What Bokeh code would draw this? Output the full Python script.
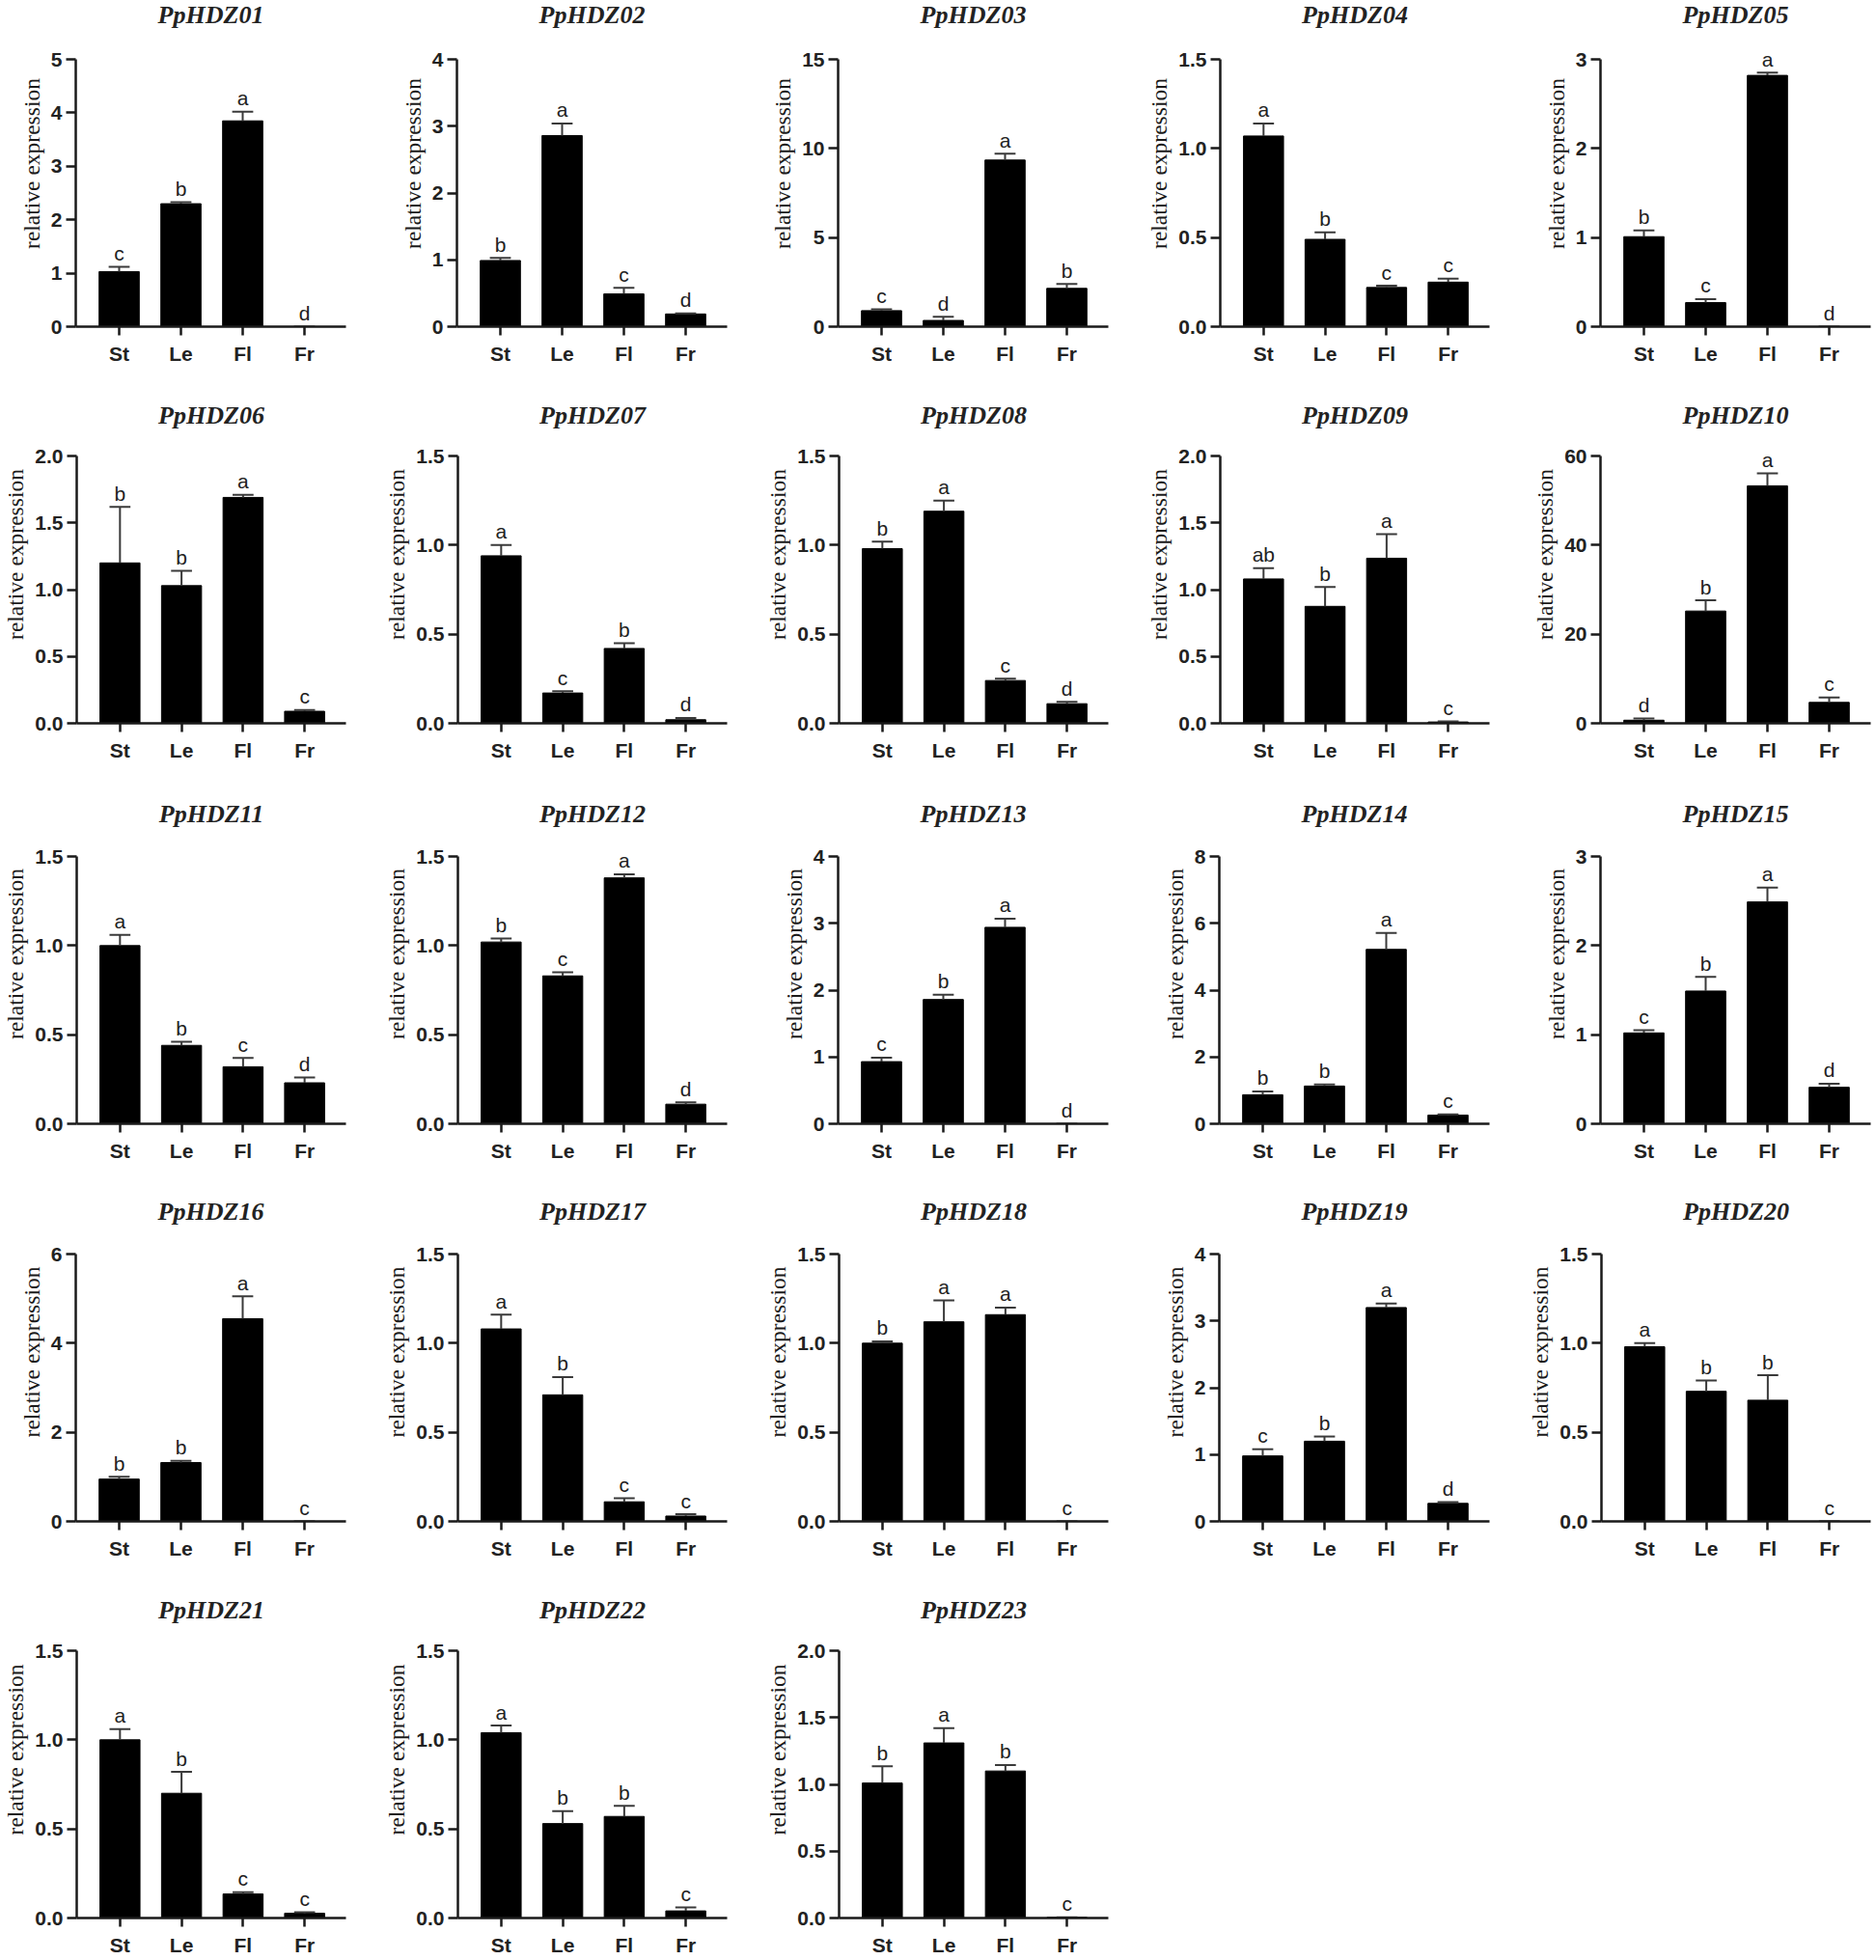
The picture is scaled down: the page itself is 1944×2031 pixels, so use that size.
from bokeh.plotting import figure
from bokeh.layouts import column, row
from bokeh.models import FixedTicker, PrintfTickFormatter
from bokeh.core.properties import value
from bokeh.embed import file_html
from bokeh.resources import INLINE

genes = ["PpHDZ01", "PpHDZ02", "PpHDZ03", "PpHDZ04", "PpHDZ05",
         "PpHDZ06", "PpHDZ07", "PpHDZ08", "PpHDZ09", "PpHDZ10",
         "PpHDZ11", "PpHDZ12", "PpHDZ13", "PpHDZ14", "PpHDZ15",
         "PpHDZ16", "PpHDZ17", "PpHDZ18", "PpHDZ19", "PpHDZ20",
         "PpHDZ21", "PpHDZ22", "PpHDZ23"]
tissues = ["St", "Le", "Fl", "Fr"]

# mean relative expression per tissue (one entry per gene)
mean_st = [1.03, 0.99, 0.90, 1.07, 1.01, 1.20, 0.94, 0.98, 1.08, 0.7,
           1.00, 1.02, 0.93, 0.87, 1.02, 0.95, 1.08, 1.00, 0.98, 0.98,
           1.00, 1.04, 1.01]
mean_le = [2.30, 2.86, 0.35, 0.49, 0.27, 1.03, 0.17, 1.19, 0.875, 25.2,
           0.44, 0.83, 1.86, 1.13, 1.49, 1.32, 0.71, 1.12, 1.20, 0.73,
           0.70, 0.53, 1.31]
mean_fl = [3.85, 0.49, 9.35, 0.22, 2.82, 1.69, 0.42, 0.24, 1.235, 53.3,
           0.32, 1.38, 2.94, 5.22, 2.49, 4.55, 0.11, 1.16, 3.20, 0.68,
           0.135, 0.57, 1.10]
mean_fr = [0.0, 0.19, 2.15, 0.25, 0.0, 0.09, 0.02, 0.11, 0.01, 4.7,
           0.23, 0.11, 0.0, 0.26, 0.41, 0.0, 0.03, 0.0, 0.27, 0.0,
           0.027, 0.04, 0.005]

# upper error (SD) per tissue
err_st = [0.09, 0.04, 0.07, 0.07, 0.07, 0.42, 0.06, 0.04, 0.08, 0.4,
          0.06, 0.02, 0.06, 0.10, 0.03, 0.05, 0.08, 0.01, 0.10, 0.02,
          0.06, 0.04, 0.125]
err_le = [0.03, 0.18, 0.20, 0.04, 0.04, 0.11, 0.01, 0.06, 0.145, 2.4,
          0.02, 0.02, 0.07, 0.05, 0.16, 0.04, 0.10, 0.12, 0.07, 0.06,
          0.12, 0.07, 0.11]
err_fl = [0.17, 0.09, 0.35, 0.01, 0.03, 0.02, 0.03, 0.01, 0.18, 2.8,
          0.05, 0.02, 0.13, 0.49, 0.16, 0.50, 0.02, 0.04, 0.06, 0.14,
          0.01, 0.06, 0.045]
err_fr = [0.0, 0.01, 0.25, 0.02, 0.0, 0.01, 0.01, 0.01, 0.005, 1.1,
          0.03, 0.01, 0.0, 0.02, 0.04, 0.0, 0.01, 0.0, 0.02, 0.0,
          0.006, 0.02, 0.0]

# significance letters
let_st = ["c", "b", "c", "a", "b", "b", "a", "b", "ab", "d",
          "a", "b", "c", "b", "c", "b", "a", "b", "c", "a",
          "a", "a", "b"]
let_le = ["b", "a", "d", "b", "c", "b", "c", "a", "b", "b",
          "b", "c", "b", "b", "b", "b", "b", "a", "b", "b",
          "b", "b", "a"]
let_fl = ["a", "c", "a", "c", "a", "a", "b", "c", "a", "a",
          "c", "a", "a", "a", "a", "a", "c", "a", "a", "b",
          "c", "b", "b"]
let_fr = ["d", "d", "b", "c", "d", "c", "d", "d", "c", "c",
          "d", "d", "d", "c", "d", "c", "c", "c", "d", "c",
          "c", "c", "c"]

# y axis maximum and tick step per gene
y_max = [5, 4, 15, 1.5, 3, 2.0, 1.5, 1.5, 2.0, 60,
         1.5, 1.5, 4, 8, 3, 6, 1.5, 1.5, 4, 1.5,
         1.5, 1.5, 2.0]
y_step = [1, 1, 5, 0.5, 1, 0.5, 0.5, 0.5, 0.5, 20,
          0.5, 0.5, 1, 2, 1, 2, 0.5, 0.5, 1, 0.5,
          0.5, 0.5, 0.5]

XS = [1, 2, 3, 4]
X_LO, X_HI = 0.297, 4.672
BAR_W = 0.65
CAP = 0.17
INK = "#1a1a1a"
TXT = "#222222"

COL_W = 395
ROW_H = [399, 413, 413, 413, 393]
TOPB = [61, 73, 75, 74, 72]
TITLE_UP = [46, 42, 44, 44, 42]
AXIS_H = 277
FRAME_W = 280
LEFT = 78


def panel(i, c, r):
    w = COL_W if c < 4 else LEFT + FRAME_W + 2
    h = ROW_H[r]
    frame_h = AXIS_H + TOPB[r]
    y_end = y_max[i] * frame_h / AXIS_H
    p = figure(width=w, height=h, x_range=(X_LO, X_HI), y_range=(0, y_end),
               output_backend="svg", toolbar_location=None, tools="",
               min_border_left=LEFT, min_border_right=w - LEFT - FRAME_W,
               min_border_top=0, min_border_bottom=h - frame_h)
    p.outline_line_color = None
    p.grid.visible = False
    p.background_fill_color = "white"
    p.border_fill_color = "white"

    # panel title (gene name)
    p.text(x=[(X_LO + X_HI) / 2], y=[y_max[i]], text=[genes[i]], y_offset=-TITLE_UP[r],
           text_align="center", text_baseline="middle",
           text_font=value("Liberation Serif"), text_font_style="bold italic",
           text_font_size="26px", text_color=TXT)

    means = [mean_st[i], mean_le[i], mean_fl[i], mean_fr[i]]
    errs = [err_st[i], err_le[i], err_fl[i], err_fr[i]]
    lets = [let_st[i], let_le[i], let_fl[i], let_fr[i]]
    tops = [m + e for m, e in zip(means, errs)]

    p.vbar(x=XS, top=means, bottom=0, width=BAR_W, fill_color="black", line_color="black")
    p.segment(x0=XS, y0=means, x1=XS, y1=tops, line_color="#3a3a3a", line_width=2)
    p.segment(x0=[x - CAP for x in XS], y0=tops, x1=[x + CAP for x in XS], y1=tops,
              line_color="#3a3a3a", line_width=2)
    p.text(x=XS, y=tops, text=lets, y_offset=-14, text_align="center",
           text_baseline="alphabetic", text_font=value("Liberation Sans"),
           text_font_size="21px", text_color=TXT)

    xa = p.xaxis[0]
    xa.ticker = FixedTicker(ticks=XS)
    xa.major_label_overrides = {x: t for x, t in zip(XS, tissues)}
    xa.minor_tick_line_color = None
    xa.major_tick_in = 0
    xa.major_tick_out = 9
    xa.axis_line_width = 2.5
    xa.axis_line_color = INK
    xa.major_tick_line_width = 2.5
    xa.major_tick_line_color = INK
    xa.major_label_text_font = "Liberation Sans"
    xa.major_label_text_font_style = "bold"
    xa.major_label_text_font_size = "21px"
    xa.major_label_text_color = TXT
    xa.major_label_standoff = 7

    ya = p.yaxis[0]
    n = int(round(y_max[i] / y_step[i]))
    ya.bounds = (0, y_max[i])
    ya.ticker = FixedTicker(ticks=[k * y_step[i] for k in range(n + 1)])
    ya.formatter = PrintfTickFormatter(format="%.1f" if y_step[i] < 1 else "%d")
    ya.minor_tick_line_color = None
    ya.major_tick_in = 0
    ya.major_tick_out = 10
    ya.axis_line_width = 2.5
    ya.axis_line_color = INK
    ya.major_tick_line_width = 2.5
    ya.major_tick_line_color = INK
    ya.major_label_text_font = "Liberation Sans"
    ya.major_label_text_font_style = "bold"
    ya.major_label_text_font_size = "21px"
    ya.major_label_text_color = TXT
    ya.major_label_standoff = 4
    ya.axis_label = "relative expression"
    ya.axis_label_text_font = "Liberation Serif"
    ya.axis_label_text_font_style = "normal"
    ya.axis_label_text_font_size = "23.5px"
    ya.axis_label_text_color = INK
    ya.axis_label_standoff = 4
    return p


rows = []
for r in range(5):
    figs = []
    for c in range(5):
        i = r * 5 + c
        if i < len(genes):
            figs.append(panel(i, c, r))
    rows.append(row(*figs))

layout = column(*rows)
open("out.html", "w").write(file_html(layout, INLINE))
